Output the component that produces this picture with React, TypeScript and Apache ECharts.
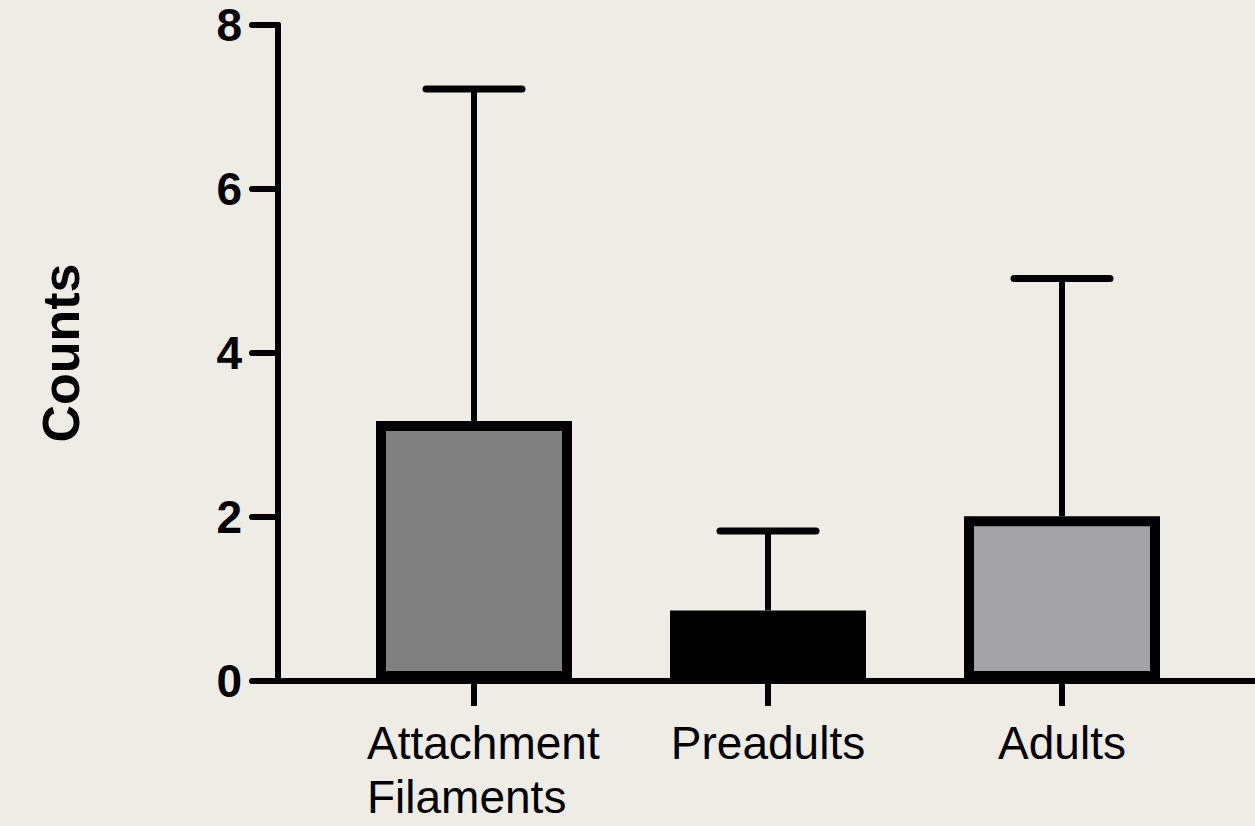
import React, { useEffect, useRef } from "react";
import * as echarts from "echarts";

const categories = ["Attachment\nFilaments", "Preadults", "Adults"];
const means = [3.17, 0.86, 2.01];
const uppers = [7.22, 1.83, 4.91];
const barColors = ["#808080", "#000000", "#A3A2A7"];
const yTicks = [0, 2, 4, 6, 8];

const BG = "#EEECE5";
const FONT = "'Liberation Sans', Arial, sans-serif";

export default function App() {
  const ref = useRef<HTMLDivElement>(null);
  useEffect(() => {
    if (!ref.current) return;
    const chart = echarts.init(ref.current, null, { renderer: "svg" });
    const top = 25;
    const bottom = 145;
    const labelStyle = {
      color: "#000",
      fontFamily: FONT,
      fontSize: 46,
      lineHeight: 54,
    };
    chart.setOption({
      animation: false,
      backgroundColor: BG,
      grid: [
        { left: 327, right: 46, top, bottom, containLabel: false, outerBoundsMode: "none" },
        { left: 278, right: 0, top, bottom, containLabel: false, outerBoundsMode: "none" },
      ],
      xAxis: [
        {
          type: "category",
          gridIndex: 0,
          data: categories,
          axisLine: { show: false },
          axisTick: {
            show: true,
            alignWithLabel: true,
            interval: 0,
            length: 25,
            lineStyle: { color: "#000", width: 6 },
          },
          axisLabel: {
            ...labelStyle,
            interval: 0,
            hideOverlap: false,
            margin: 35,
            formatter: (v: string) =>
              v.includes("\n")
                ? v.split("\n").map((s) => `{l|${s}}`).join("\n")
                : v,
            rich: {
              l: { ...labelStyle, width: 214, align: "left" },
            },
          },
        },
        {
          type: "value",
          gridIndex: 1,
          min: 0,
          max: 1,
          axisLine: { show: true, lineStyle: { color: "#000", width: 6 } },
          axisTick: { show: false },
          axisLabel: { show: false },
          splitLine: { show: false },
        },
      ],
      yAxis: [
        {
          type: "value",
          gridIndex: 0,
          min: 0,
          max: 8,
          interval: 2,
          offset: 49,
          name: "Counts",
          nameLocation: "middle",
          nameGap: 191,
          nameTextStyle: {
            color: "#000",
            fontFamily: FONT,
            fontWeight: "bold",
            fontSize: 52,
          },
          axisLine: { show: true, lineStyle: { color: "#000", width: 6 } },
          axisTick: {
            show: true,
            length: 26,
            lineStyle: { color: "#000", width: 6, cap: "round" },
          },
          axisLabel: {
            color: "#000",
            fontFamily: FONT,
            fontWeight: "bold",
            fontSize: 46,
            margin: 36,
            formatter: (v: number) => (yTicks.includes(v) ? String(v) : ""),
          },
          splitLine: { show: false },
        },
        {
          type: "value",
          gridIndex: 1,
          min: 0,
          max: 8,
          show: false,
        },
      ],
      series: [
        {
          type: "custom",
          xAxisIndex: 0,
          yAxisIndex: 0,
          z: 1,
          data: categories.map((_, i) => [i, means[i], uppers[i]]),
          renderItem: (params: any, api: any) => {
            const x = api.value(0);
            const lo = api.coord([x, api.value(1)]);
            const hi = api.coord([x, api.value(2)]);
            const half = 48;
            return {
              type: "group",
              children: [
                {
                  type: "line",
                  shape: { x1: lo[0], y1: lo[1], x2: hi[0], y2: hi[1] },
                  style: { stroke: "#000", lineWidth: 6 },
                },
                {
                  type: "line",
                  shape: { x1: hi[0] - half, y1: hi[1], x2: hi[0] + half, y2: hi[1] },
                  style: { stroke: "#000", lineWidth: 7, lineCap: "round" },
                },
              ],
            };
          },
        },
        {
          type: "bar",
          xAxisIndex: 0,
          yAxisIndex: 0,
          z: 2,
          barWidth: 196,
          data: means.map((v, i) => ({
            value: v,
            itemStyle: {
              color: barColors[i],
              borderColor: "#000",
              borderWidth: 10,
            },
          })),
        },
      ],
    });
    return () => chart.dispose();
  }, []);
  return (
    <div
      ref={ref}
      style={{ position: "fixed", left: 0, top: 0, width: 1255, height: 826, background: BG }}
    />
  );
}
